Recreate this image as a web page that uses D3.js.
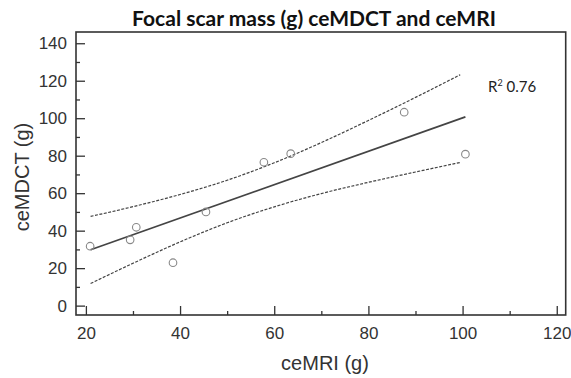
<html>
<head>
    <title>Focal scar mass</title>
    <script src="https://d3js.org/d3.v7.min.js" charset="utf-8"></script>
    <style>
        body {
            margin: 0;
            background: #fff;
        }
        .tick line {
            stroke: #333;
            stroke-width: 1.3;
        }
    </style>
</head>
<body>
    <script>
    // points: ceMRI (x) vs ceMDCT (y)
    var mriValues = [20.9, 29.4, 30.7, 38.5, 45.5, 57.8, 63.5, 87.6, 100.6];
    var mdctValues = [31.7, 35.1, 41.8, 22.9, 50.0, 76.5, 81.1, 103.2, 80.8];

    // regression line ends
    var fitX = [21, 100.6];
    var fitY = [29.8, 100.7];

    // confidence band, read at a few x positions
    var bandX = [21, 30, 40, 50, 60, 70, 80, 90, 99.5];
    var bandUpper = [47.6, 52.8, 59.3, 66.9, 76.2, 87.0, 98.8, 111.1, 123.2];
    var bandLower = [11.8, 22.6, 34.0, 44.2, 52.7, 59.8, 65.8, 71.3, 76.4];

    var xTicks = [20, 40, 60, 80, 100, 120];
    var xMinor = [30, 50, 70, 90, 110];
    var yTicks = [0, 20, 40, 60, 80, 100, 120, 140];
    var yMinor = [10, 30, 50, 70, 90, 110, 130];

    var width = 571;
    var height = 378;
    var axisFont = "Liberation Sans, Arial, sans-serif";

    var svg = d3.select("body")
        .append("svg")
        .attr("width", width)
        .attr("height", height);

    var x = d3.scaleLinear().domain([17.9, 121.9]).range([76, 565.7]);
    var y = d3.scaleLinear().domain([-5, 146]).range([315, 32]);

    function styleAxis(g) {
        g.select(".domain").remove();
        g.attr("font-family", axisFont).attr("font-size", 17);
        g.selectAll(".tick text").attr("fill", "#333");
    }

    // ticks point inward
    svg.append("g")
        .attr("transform", "translate(0,315)")
        .call(d3.axisBottom(x).tickValues(xTicks).tickSizeInner(-9).tickSizeOuter(0).tickPadding(12))
        .call(styleAxis);

    svg.append("g")
        .attr("transform", "translate(0,315)")
        .call(d3.axisBottom(x).tickValues(xMinor).tickSizeInner(-4).tickSizeOuter(0).tickFormat(""))
        .call(styleAxis);

    svg.append("g")
        .attr("transform", "translate(76,0)")
        .call(d3.axisLeft(y).tickValues(yTicks).tickSizeInner(-9).tickSizeOuter(0).tickPadding(9))
        .call(styleAxis);

    svg.append("g")
        .attr("transform", "translate(76,0)")
        .call(d3.axisLeft(y).tickValues(yMinor).tickSizeInner(-4).tickSizeOuter(0).tickFormat(""))
        .call(styleAxis);

    // frame
    svg.append("rect")
        .attr("x", x.range()[0])
        .attr("y", y.range()[1])
        .attr("width", x.range()[1] - x.range()[0])
        .attr("height", y.range()[0] - y.range()[1])
        .attr("fill", "none")
        .attr("stroke", "#333")
        .attr("stroke-width", 1.6);

    var bandLine = d3.line().curve(d3.curveMonotoneX);

    svg.append("path")
        .attr("d", bandLine(bandX.map(function(d, i) { return [x(d), y(bandUpper[i])]; })))
        .attr("fill", "none")
        .attr("stroke", "#444")
        .attr("stroke-width", 1.2)
        .attr("stroke-dasharray", "3,1.5");

    svg.append("path")
        .attr("d", bandLine(bandX.map(function(d, i) { return [x(d), y(bandLower[i])]; })))
        .attr("fill", "none")
        .attr("stroke", "#444")
        .attr("stroke-width", 1.2)
        .attr("stroke-dasharray", "3,1.5");

    svg.append("path")
        .attr("d", d3.line()(fitX.map(function(d, i) { return [x(d), y(fitY[i])]; })))
        .attr("fill", "none")
        .attr("stroke", "#444")
        .attr("stroke-width", 1.7);

    svg.append("g")
        .selectAll("circle")
        .data(mriValues)
        .enter()
        .append("circle")
        .attr("cx", function(d) { return x(d); })
        .attr("cy", function(d, i) { return y(mdctValues[i]); })
        .attr("r", 3.8)
        .attr("fill", "none")
        .attr("stroke", "#888")
        .attr("stroke-width", 1.1);

    // texts
    svg.append("text")
        .attr("x", 314)
        .attr("y", 26)
        .attr("text-anchor", "middle")
        .attr("font-family", "Lato, sans-serif")
        .attr("font-weight", "bold")
        .attr("font-size", 21)
        .attr("fill", "#111")
        .text("Focal scar mass (g) ceMDCT and ceMRI");

    var r2 = svg.append("text")
        .attr("x", 488)
        .attr("y", 92)
        .attr("font-family", "Lato, sans-serif")
        .attr("font-size", 15)
        .attr("fill", "#222");
    r2.append("tspan").text("R");
    r2.append("tspan").attr("font-size", 9).attr("dy", -6).text("2");
    r2.append("tspan").attr("dy", 6).text(" 0.76");

    svg.append("text")
        .attr("x", 325)
        .attr("y", 370)
        .attr("text-anchor", "middle")
        .attr("font-family", axisFont)
        .attr("font-size", 20)
        .attr("fill", "#333")
        .text("ceMRI (g)");

    svg.append("text")
        .attr("transform", "translate(29,177) rotate(-90)")
        .attr("text-anchor", "middle")
        .attr("font-family", axisFont)
        .attr("font-size", 20)
        .attr("fill", "#333")
        .text("ceMDCT (g)");
    </script>
</body>
</html>
